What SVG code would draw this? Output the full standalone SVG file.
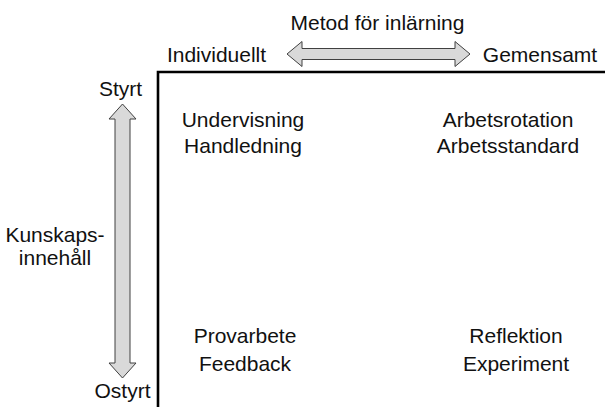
<svg xmlns="http://www.w3.org/2000/svg" width="605" height="407" viewBox="0 0 605 407">
  <style>
    text { font-family: "Liberation Sans", Arial, sans-serif; font-size: 21px; fill: #111; text-anchor: middle; }
    .axis { fill: none; stroke: #000; stroke-width: 2.6; }
    .dbl { fill: #d9d9d9; stroke: #404040; stroke-width: 1; stroke-linejoin: miter; }
  </style>
  <rect width="605" height="407" fill="#fff"/>

  <!-- connectors: matrix axes and the two double-headed arrows -->
  <g id="connectors">
    <path class="axis" d="M158,407 V72 H605"/>
    <!-- horizontal: Individuellt <-> Gemensamt -->
    <path class="dbl" d="M287,54 L302,41.5 V48.5 H455 V41.5 L470,54 L455,66.5 V59.5 H302 V66.5 Z"/>
    <!-- vertical: Styrt <-> Ostyrt -->
    <path class="dbl" d="M122.5,104 L136,119 H130 V363 H136 L122.5,378 L109,363 H115 V119 H109 Z"/>
  </g>

  <g id="axis-method">
    <text x="377.5" y="30">Metod för inlärning</text>
  </g>
  <g id="end-individuellt">
    <text x="216.5" y="62">Individuellt</text>
  </g>
  <g id="end-gemensamt">
    <text x="540" y="62">Gemensamt</text>
  </g>
  <g id="end-styrt">
    <text x="120.5" y="96">Styrt</text>
  </g>
  <g id="end-ostyrt">
    <text x="122.5" y="398">Ostyrt</text>
  </g>
  <g id="axis-knowledge">
    <text x="55" y="242">Kunskaps-</text>
    <text x="55" y="265">innehåll</text>
  </g>

  <g id="q-styrt-individuellt">
    <text x="243" y="127">Undervisning</text>
    <text x="243" y="153">Handledning</text>
  </g>
  <g id="q-styrt-gemensamt">
    <text x="508" y="127">Arbetsrotation</text>
    <text x="508" y="153">Arbetsstandard</text>
  </g>
  <g id="q-ostyrt-individuellt">
    <text x="245" y="343">Provarbete</text>
    <text x="245" y="371">Feedback</text>
  </g>
  <g id="q-ostyrt-gemensamt">
    <text x="516" y="343">Reflektion</text>
    <text x="516" y="371">Experiment</text>
  </g>
</svg>
